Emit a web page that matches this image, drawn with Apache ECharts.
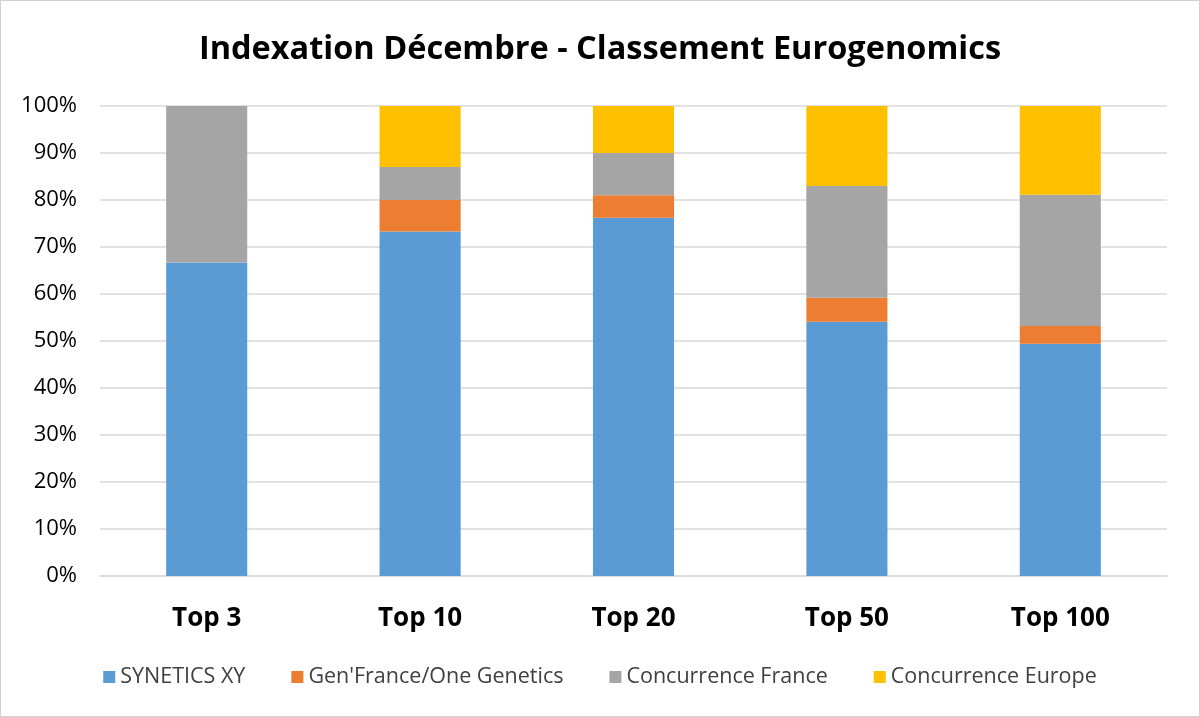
<!DOCTYPE html>
<html><head><meta charset="utf-8">
<script src="https://cdn.jsdelivr.net/npm/echarts@6/dist/echarts.min.js"></script>
<style>html,body{margin:0;padding:0;background:#fff}#c{position:absolute;left:0;top:0;width:1198px;height:715px;border:1px solid #d0d0d0}</style>
</head><body><div id="c"></div>
<script>
const categories = ['Top 3','Top 10','Top 20','Top 50','Top 100'];
const synetics = [66.7, 73.3, 76.2, 54.1, 49.4];
const genfrance = [0, 6.7, 4.8, 5.1, 3.8];
const concFrance = [33.3, 7.0, 9.0, 23.8, 27.9];
const concEurope = [0, 13.0, 10.0, 17.0, 18.9];
const names = ['SYNETICS XY',"Gen'France/One Genetics",'Concurrence France','Concurrence Europe'];
const colors = ['#5b9bd5','#ed7d31','#a5a5a5','#ffc000'];
const font = '"Open Sans", "Liberation Sans", sans-serif';
const chart = echarts.init(document.getElementById('c'));
const mk = (n,d,i)=>({name:n,type:'bar',stack:'s',data:d,barWidth:'38%',itemStyle:{color:colors[i]}});
chart.setOption({
  animation:false,
  color:colors,
  title:{text:'Indexation Décembre - Classement Eurogenomics',left:'center',top:27,
    textStyle:{fontFamily:font,fontWeight:'bold',fontSize:32.5,color:'#000'}},
  legend:{bottom:23,left:'center',itemWidth:12,itemHeight:12,itemGap:46,icon:'rect',
    textStyle:{fontFamily:font,fontSize:21.5,color:'#404040'},data:names},
  grid:{left:99,right:32,top:105,bottom:140},
  xAxis:{type:'category',data:categories,axisTick:{show:false},
    axisLine:{lineStyle:{color:'#d9d9d9',width:1.5}},
    axisLabel:{fontFamily:font,fontWeight:'bold',fontSize:26,color:'#000',margin:30}},
  yAxis:{type:'value',min:0,max:100,interval:10,
    axisLabel:{formatter:'{value}%',fontFamily:font,fontSize:22,color:'#000',margin:23},
    splitLine:{lineStyle:{color:'#d9d9d9',width:1.5}},axisLine:{show:false},axisTick:{show:false}},
  series:[mk(names[0],synetics,0),mk(names[1],genfrance,1),mk(names[2],concFrance,2),mk(names[3],concEurope,3)]
});
</script></body></html>
